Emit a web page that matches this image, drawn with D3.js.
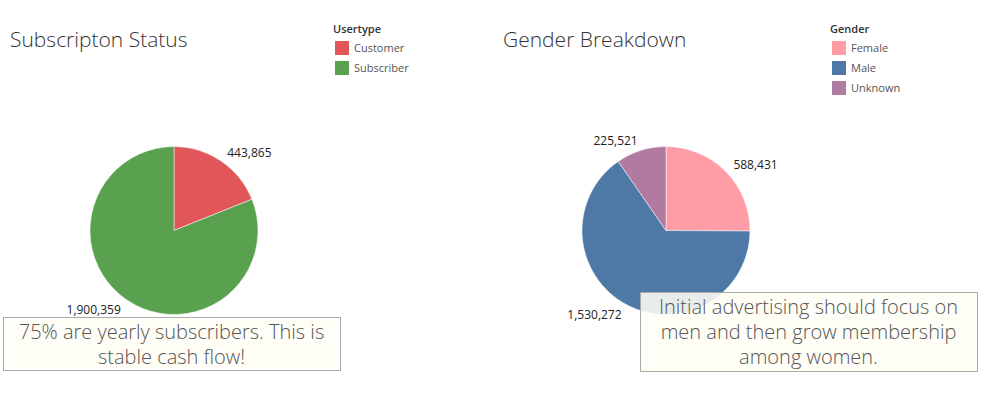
<!DOCTYPE html>
<html>
<head>
<meta charset="utf-8">
<script src="https://cdn.jsdelivr.net/npm/d3@7"></script>
<style>
  body { margin: 0; background: #fff; }
  text { font-family: 'Open Sans', 'Noto Sans', sans-serif; }
</style>
</head>
<body>
<div class="chart"></div>
<script>
// DATA
// ----------------------------
const userTypes = ['Customer', 'Subscriber']
const userCounts = [443865, 1900359]
const userColors = ['#e15759', '#59a14f']

const genders = ['Female', 'Male', 'Unknown']
const genderCounts = [588431, 1530272, 225521]
const genderColors = ['#ff9da7', '#4e79a7', '#b07aa1']

const leftNote = ['75% are yearly subscribers. This is', 'stable cash flow!']
const rightNote = ['Initial advertising should focus on', 'men and then grow membership', 'among women.']

// SETUP
// ----------------------------
const fullWidth = 985
const fullHeight = 393

const svg = d3.select('.chart')
  .append('svg')
    .attr('width', fullWidth)
    .attr('height', fullHeight)

const fmt = d3.format(',')
const radius = 84

function drawPanel (opt) {
  const g = svg.append('g')

  // title
  g.append('text')
    .attr('x', opt.titleX)
    .attr('y', 47)
    .style('font-size', '21px')
    .style('font-weight', 300)
    .style('fill', '#333')
    .text(opt.title)

  // legend
  const color = d3.scaleOrdinal().domain(opt.cats).range(opt.colors)
  const legend = g.append('g')
    .attr('transform', `translate(${opt.legendX}, 0)`)
  legend.append('text')
    .attr('x', 0)
    .attr('y', 33)
    .style('font-size', '11px')
    .style('font-weight', 600)
    .style('fill', '#333')
    .text(opt.legendTitle)
  const rows = legend.selectAll('.row')
    .data(opt.cats)
    .enter()
    .append('g')
    .attr('class', 'row')
    .attr('transform', (d, i) => `translate(2, ${41 + i * 20})`)
  rows.append('rect')
    .attr('width', 14)
    .attr('height', 14)
    .style('fill', d => color(d))
  rows.append('text')
    .attr('x', 19)
    .attr('y', 11)
    .style('font-size', '11px')
    .style('fill', '#555')
    .text(d => d)

  // pie
  const data = opt.cats.map((c, i) => ({ cat: c, value: opt.values[i] }))
  const pie = d3.pie().sort(null).value(d => d.value)
  const arc = d3.arc().innerRadius(0).outerRadius(radius)
  const labelArc = d3.arc().innerRadius(95).outerRadius(95)

  const pg = g.append('g')
    .attr('transform', `translate(${opt.cx}, 230.5)`)
  const arcs = pie(data)
  pg.selectAll('path')
    .data(arcs)
    .enter()
    .append('path')
    .attr('d', arc)
    .style('fill', d => color(d.data.cat))
    .style('stroke', '#fff')
    .style('stroke-width', 0.5)
  // labels sit just outside the slice, anchored away from the pie
  pg.selectAll('.lbl')
    .data(arcs)
    .enter()
    .append('text')
    .attr('class', 'lbl')
    .attr('transform', d => {
      const [x, y] = labelArc.centroid(d)
      return `translate(${x}, ${y + 5})`
    })
    .style('text-anchor', d => labelArc.centroid(d)[0] >= 0 ? 'start' : 'end')
    .style('font-size', '12px')
    .style('fill', '#222')
    .text(d => fmt(d.data.value))

  // annotation
  const note = opt.note
  g.append('rect')
    .attr('x', note.x + 0.5)
    .attr('y', note.y + 0.5)
    .attr('width', note.w)
    .attr('height', note.h)
    .style('fill', '#fefdf5')
    .style('fill-opacity', 0.88)
    .style('stroke', '#aaa')
  g.append('text')
    .attr('x', note.x + note.w / 2)
    .attr('y', note.y + 22)
    .style('text-anchor', 'middle')
    .style('font-size', '20px')
    .style('font-weight', 300)
    .style('fill', '#555')
    .selectAll('tspan')
    .data(note.lines)
    .enter()
    .append('tspan')
    .attr('x', note.x + note.w / 2)
    .attr('dy', (d, i) => i === 0 ? 0 : 25)
    .text(d => d)
}

drawPanel({
  title: 'Subscripton Status', titleX: 10,
  legendTitle: 'Usertype', legendX: 333,
  cats: userTypes, values: userCounts, colors: userColors,
  cx: 174,
  note: { x: 3, y: 317, w: 337, h: 53, lines: leftNote }
})

drawPanel({
  title: 'Gender Breakdown', titleX: 503,
  legendTitle: 'Gender', legendX: 830,
  cats: genders, values: genderCounts, colors: genderColors,
  cx: 666,
  note: { x: 640, y: 292, w: 337, h: 79, lines: rightNote }
})
</script>
</body>
</html>
